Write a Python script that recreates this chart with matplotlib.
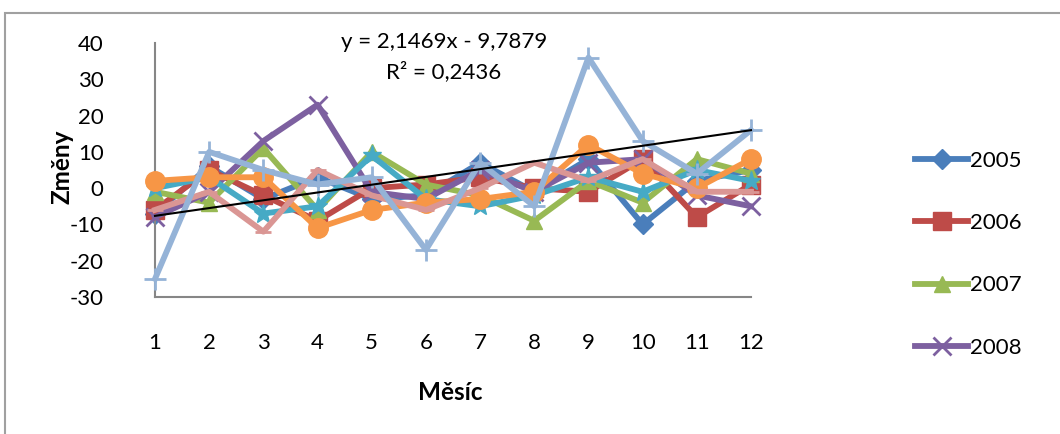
import numpy as np
import matplotlib.pyplot as plt
from matplotlib.patches import Rectangle
from matplotlib.lines import Line2D

plt.rcParams['font.family'] = ['Lato', 'DejaVu Sans']
plt.rcParams['axes.unicode_minus'] = False

# data
months = [1, 2, 3, 4, 5, 6, 7, 8, 9, 10, 11, 12]
years = ['2005', '2006', '2007', '2008', '2009', '2010', '2011', '2012']
s2005 = [-7, 6, -3, 3, -3, -2, 7, -1, 8, -10, 2, 5]
s2006 = [-6, 5, -2, -9, 0, 1, 3, 0, -1, 8, -8, 1]
s2007 = [-1, -4, 11, -6, 10, 1, -2, -9, 2, -4, 8, 4]
s2008 = [-8, -1, 13, 23, -1, -3, 5, -1, 7, 8, -2, -5]
s2009 = [0, 3, -7, -5, 9, -3, -5, -2, 3, -1, 5, 2]
s2010 = [2, 3, 3, -11, -6, -4, -3, -1, 12, 4, 0, 8]
s2011 = [-6, -1, -12, 5, -2, -6, 0, 7, 2, 8, -1, -1]
s2012 = [-25, 10, 5, 1, 3, -17, 7, -5, 36, 13, 4, 16]
series = [s2005, s2006, s2007, s2008, s2009, s2010, s2011, s2012]

# trendline shown on the chart
trend_slope = 2.1469
trend_icpt = -9.7879

colors = ['#4A7EBB', '#BE4B48', '#98B954', '#7D60A0', '#46AAC5', '#F79646', '#DA9694', '#95B3D7']
markers = ['D', 's', '^', 'x', '*', 'o', '_', '+']
msizes = [10, 13, 12, 13, 14, 14, 12, 16]

fig = plt.figure(figsize=(10.6, 4.34), dpi=100)
ax = fig.add_axes([155 / 1060, 1 - 297 / 434, (751 - 155) / 1060, (297 - 43) / 434])

# outer chart border
fig.patches.append(Rectangle((5 / 1060, -0.1), 1.2, 1 - 13 / 434 + 0.1, transform=fig.transFigure,
                             fill=False, edgecolor='#A0A0A0', linewidth=1.5))

for i, vals in enumerate(series):
    ax.plot(months, vals, color=colors[i], marker=markers[i], markersize=msizes[i],
            linewidth=4.2, markeredgewidth=2 if markers[i] in ('x', '+', '_') else 1,
            markeredgecolor=colors[i], clip_on=False, zorder=2 + i)

xt = np.array([months[0], months[-1]])
ax.plot(xt, trend_slope * xt + trend_icpt, color='black', linewidth=1.5, zorder=20, clip_on=False)

ax.set_xlim(1, 12)
ax.set_ylim(-30, 40)
ax.set_xticks(months)
ax.set_yticks(range(-30, 41, 10))
ax.tick_params(length=0, labelsize=16)
ax.tick_params(axis='y', pad=37)
ax.tick_params(axis='x', pad=26)
for sp in ['top', 'right']:
    ax.spines[sp].set_visible(False)
for sp in ['left', 'bottom']:
    ax.spines[sp].set_color('#868686')
    ax.spines[sp].set_linewidth(1.5)

fig.text(62 / 1060, 1 - 167 / 434, 'Změny', rotation=90, ha='center', va='center',
         fontsize=17.5, fontweight='bold')
fig.text(450 / 1060, 1 - 392 / 434, 'Měsíc', ha='center', va='center', fontsize=17.5, fontweight='bold')

fig.text(444 / 1060, 1 - 42 / 434, 'y = 2,1469x - 9,7879', ha='center', va='center', fontsize=16)
fig.text(444 / 1060, 1 - 72 / 434, 'R² = 0,2436', ha='center', va='center', fontsize=16)

handles = [Line2D([], [], color=colors[i], marker=markers[i], markersize=msizes[i], linewidth=4.2,
                  markeredgewidth=2 if markers[i] == 'x' else 1) for i in range(4)]
fig.legend(handles, years[:4], loc='upper left', bbox_to_anchor=(906 / 1060, 1 - 142 / 434),
           frameon=False, fontsize=16, handlelength=2.4, handletextpad=0.1, labelspacing=1.9,
           borderaxespad=0)

fig.savefig('out.png', dpi=100)
